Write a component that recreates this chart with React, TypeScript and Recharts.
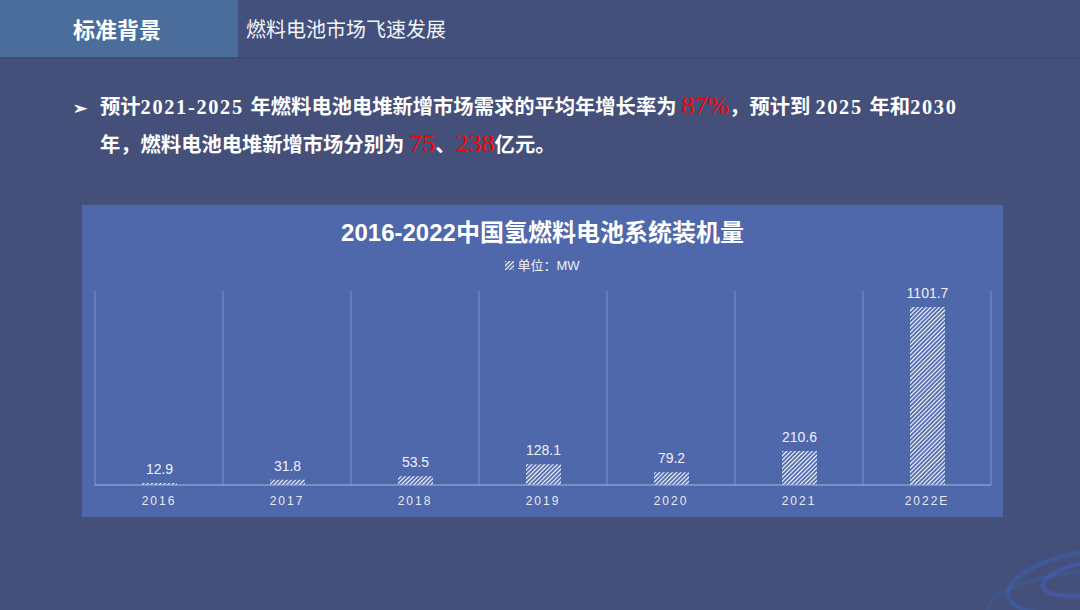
import React from "react";
import {
  BarChart,
  Bar,
  XAxis,
  YAxis,
  CartesianGrid,
  LabelList,
} from "recharts";

// 装机量数据（单位：MW）
const years = ["2016", "2017", "2018", "2019", "2020", "2021", "2022E"];
const capacity = [12.9, 31.8, 53.5, 128.1, 79.2, 210.6, 1101.7];
const yDomain = [0, 1200];

const chartData = years.map((year, i) => ({ year, value: capacity[i] }));

const cjk = '"Noto Sans CJK SC", "Liberation Sans", sans-serif';
const serifCjk = '"Liberation Serif", "Noto Sans CJK SC", serif';
const latin = '"Liberation Sans", "Noto Sans CJK SC", sans-serif';

const red = { color: "#ff0000", fontSize: 26, fontWeight: 400 };
const num = { letterSpacing: 1.7 };

const App: React.FC = () => {
  // 网格线放在类目之间
  const boundaryLines = ({ offset }: any) => {
    const step = offset.width / years.length;
    return years.map((_, i) => offset.left + step * i).concat(offset.left + offset.width);
  };

  return (
    <div
      style={{
        position: "absolute",
        left: 0,
        top: 0,
        width: 1080,
        height: 610,
        background: "#44507a",
        overflow: "hidden",
        fontFamily: cjk,
      }}
    >
      {/* 顶部标题栏 */}
      <div
        style={{
          position: "absolute",
          left: 0,
          top: 0,
          width: 1080,
          height: 57,
          background: "#43507b",
          borderBottom: "2px solid #3f4a72",
        }}
      />
      <div
        style={{
          position: "absolute",
          left: 0,
          top: 0,
          width: 238,
          height: 57,
          background: "#4a6d9c",
        }}
      />
      <div
        style={{
          position: "absolute",
          left: 73,
          top: 0,
          height: 57,
          color: "#fff",
          fontWeight: 700,
          fontSize: 22,
          lineHeight: "57px",
        }}
      >
        标准背景
      </div>
      <div
        style={{
          position: "absolute",
          left: 246,
          top: 0,
          height: 57,
          lineHeight: "57px",
          color: "#f2f4fa",
          fontSize: 20,
        }}
      >
        燃料电池市场飞速发展
      </div>

      {/* 说明文字 */}
      <div
        style={{
          position: "absolute",
          left: 73,
          top: 88,
          width: 980,
          color: "#fff",
          fontFamily: serifCjk,
          fontWeight: 700,
          fontSize: 20.3,
          lineHeight: "35px",
          whiteSpace: "nowrap",
        }}
      >
        <div>
          <span style={{ display: "inline-block", width: 27, fontSize: 17 }}>➢</span>
          预计<span style={num}>2021-2025 </span>年燃料电池电堆新增市场需求的平均年增长率为{" "}
          <span style={red}>87%</span>
          ，预计到 <span style={num}>2025 </span>年和<span style={num}>2030</span>
        </div>
        <div style={{ paddingLeft: 27 }}>
          年，燃料电池电堆新增市场分别为 <span style={red}>75</span>、
          <span style={red}>238</span>
          亿元。
        </div>
      </div>

      {/* 右下角装饰 */}
      <svg
        width={110}
        height={100}
        style={{ position: "absolute", left: 975, top: 520, filter: "blur(1px)" }}
      >
        <ellipse cx={110} cy={62} rx={78} ry={30} fill="none" stroke="#3a68c8" strokeWidth={4} opacity={0.45} transform="rotate(-10 110 62)" />
        <ellipse cx={115} cy={58} rx={48} ry={16} fill="none" stroke="#4f63e0" strokeWidth={3} opacity={0.55} transform="rotate(-10 115 58)" />
        <ellipse cx={105} cy={80} rx={92} ry={28} fill="none" stroke="#3570c8" strokeWidth={3} opacity={0.3} transform="rotate(-6 105 80)" />
      </svg>

      {/* 图表面板 */}
      <div
        style={{
          position: "absolute",
          left: 82,
          top: 205,
          width: 921,
          height: 312,
          background: "#4f67ab",
        }}
      >
        <div
          style={{
            position: "absolute",
            left: 0,
            top: 8,
            width: 921,
            textAlign: "center",
            color: "#fff",
            fontWeight: 700,
            fontSize: 24,
            fontFamily: latin,
          }}
        >
          2016-2022中国氢燃料电池系统装机量
        </div>
        <div
          style={{
            position: "absolute",
            left: 0,
            top: 50,
            width: 921,
            textAlign: "center",
            color: "#f0f2f8",
            fontSize: 13,
            fontFamily: latin,
          }}
        >
          <svg width={9} height={9} style={{ marginRight: 3 }}>
            <rect width={9} height={9} fill="url(#hatch)" />
          </svg>
          单位：MW
        </div>
        <BarChart
          width={921}
          height={312}
          data={chartData}
          margin={{ top: 86, right: 12, left: 13, bottom: 0 }}
          barCategoryGap={0}
        >
          <defs>
            <pattern
              id="hatch"
              width={3}
              height={3}
              patternUnits="userSpaceOnUse"
              patternTransform="rotate(45)"
            >
              <rect width={3} height={3} fill="#5a72b4" />
              <line x1={0} y1={0} x2={0} y2={3} stroke="#ffffff" strokeWidth={2} />
            </pattern>
          </defs>
          <CartesianGrid
            horizontal={false}
            stroke="#7f93cf"
            verticalCoordinatesGenerator={boundaryLines}
          />
          <XAxis
            dataKey="year"
            axisLine={{ stroke: "#a9b7e0" }}
            tickLine={false}
            height={32}
            tick={{
              fill: "#e6e9f3",
              fontSize: 12,
              letterSpacing: 2,
              fontFamily: '"Liberation Sans", sans-serif',
            }}
            tickMargin={5}
          />
          <YAxis hide domain={yDomain} />
          <Bar dataKey="value" fill="url(#hatch)" barSize={35} isAnimationActive={false}>
            <LabelList
              dataKey="value"
              position="top"
              offset={9}
              fill="#eef1f8"
              fontSize={14}
              fontFamily='"Liberation Sans", sans-serif'
            />
          </Bar>
        </BarChart>
      </div>
    </div>
  );
};

export default App;
